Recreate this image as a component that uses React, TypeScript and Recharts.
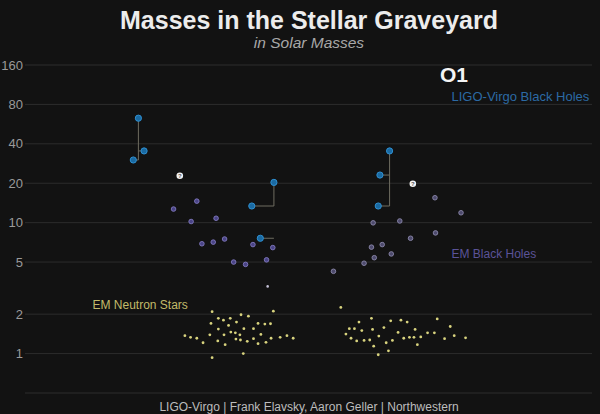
import React from 'react';
import { ScatterChart, Scatter, XAxis, YAxis, CartesianGrid } from 'recharts';

// y ticks on the log axis (solar masses)
const massTicks = [1, 2, 5, 10, 20, 40, 80, 160];

// [x position, mass]
const emNeutronStars = [
    [33.0, 2.09], [43.8, 2.11], [34.1, 1.86], [35.0, 1.8], [36.2, 1.86], [38.1, 1.98], [39.4, 1.93],
    [32.8, 1.7], [35.9, 1.64], [37.3, 1.74], [41.1, 1.7], [42.3, 1.68], [43.3, 1.69], [34.1, 1.54],
    [38.6, 1.55], [40.3, 1.55], [36.3, 1.46], [32.6, 1.39], [35.1, 1.39], [37.1, 1.44], [37.9, 1.39],
    [41.6, 1.4], [28.2, 1.37], [29.2, 1.33], [30.3, 1.31], [31.4, 1.21], [34.0, 1.25], [35.3, 1.17],
    [37.2, 1.29], [38.0, 1.27], [39.2, 1.24], [40.3, 1.3], [41.1, 1.19], [42.5, 1.22], [43.4, 1.31],
    [45.0, 1.33], [46.2, 1.37], [47.3, 1.31], [33.0, 0.93], [38.5, 1.0],
    [55.7, 2.25], [61.1, 1.86], [58.9, 1.74], [64.5, 1.78], [66.3, 1.8], [67.4, 1.74], [72.7, 1.84],
    [57.2, 1.55], [58.1, 1.55], [59.4, 1.5], [61.3, 1.53], [63.3, 1.58], [68.8, 1.53], [75.0, 1.61],
    [56.6, 1.41], [65.8, 1.45], [71.0, 1.44], [72.2, 1.44], [57.5, 1.31], [58.5, 1.25], [59.8, 1.26],
    [60.8, 1.27], [62.4, 1.36], [64.8, 1.26], [66.8, 1.31], [67.8, 1.33], [68.6, 1.33], [69.8, 1.34],
    [75.7, 1.37], [61.5, 1.14], [63.7, 1.21], [69.2, 1.17], [74.0, 1.3], [77.7, 1.32], [64.1, 1.05],
    [62.3, 0.98],
];

const emBlackHolesLeft = [
    [26.2, 12.7], [30.3, 14.6], [29.3, 10.2], [33.7, 10.8], [31.2, 6.9], [33.2, 7.1], [35.2, 7.5],
    [40.2, 6.8], [43.7, 6.45], [36.8, 5.0], [38.9, 4.8], [42.6, 5.2],
];

const emBlackHolesRight = [
    [72.3, 15.5], [76.9, 11.9], [61.4, 9.97], [66.1, 10.3], [72.4, 8.35], [68.0, 7.6], [61.1, 6.5],
    [63.0, 6.8], [61.6, 5.4], [64.6, 5.77], [59.8, 4.9], [54.4, 4.25],
];

const massGap = [[42.8, 3.26]];

const unknownObjects = [[27.3, 22.8], [68.4, 19.8]];

// LIGO-Virgo mergers: two components and the final black hole
const ligoMergers = [
    { a: [19.1, 30.1], b: [21.0, 35.3], final: [20.0, 62.8] },
    { a: [40.0, 13.4], b: [41.5, 7.6], final: [43.9, 20.3] },
    { a: [62.3, 13.4], b: [62.6, 23.1], final: [64.3, 35.3] },
];

const toPts = (arr) => arr.map(([x, m]) => ({ x, m }));
const ligoPoints = toPts(ligoMergers.flatMap((g) => [g.a, g.b, g.final]));
const mergerPaths = ligoMergers.flatMap((g) => [
    toPts([g.a, [g.final[0], g.a[1]], g.final]),
    toPts([g.b, [g.final[0], g.b[1]]]),
]);

const dot = (r, fill, stroke, sw = 0) => (props) => (
    <circle cx={props.cx} cy={props.cy} r={r} fill={fill} stroke={stroke || 'none'} strokeWidth={sw} />
);

const Question = (props) => (
    <g>
        <circle cx={props.cx} cy={props.cy} r={3.3} fill="#f2f2f2" />
        <text x={props.cx} y={props.cy + 2.2} textAnchor="middle" fontSize={6} fontWeight="bold" fill="#555">?</text>
    </g>
);

const FONT = '"Liberation Sans", Arial, sans-serif';

export default function App() {
    return (
        <div style={{ position: 'absolute', left: 0, top: 0, width: 600, height: 414, background: '#121212', fontFamily: FONT }}>
            <ScatterChart width={600} height={414} margin={{ top: 65, right: 8, bottom: 21, left: 0 }}>
                <CartesianGrid vertical={false} stroke="#2c2c2c" />
                <XAxis type="number" dataKey="x" domain={[0, 100]} hide />
                <YAxis
                    type="number"
                    dataKey="m"
                    scale="log"
                    domain={[0.5, 160]}
                    ticks={massTicks}
                    allowDataOverflow
                    width={25}
                    axisLine={false}
                    tickLine={false}
                    tickSize={0}
                    tickMargin={2}
                    tick={{ fill: '#9a9a9a', fontSize: 13, fontFamily: FONT }}
                />
                {mergerPaths.map((p, i) => (
                    <Scatter
                        key={i}
                        data={p}
                        line={{ stroke: '#6e6c60', strokeWidth: 1 }}
                        shape={() => <g />}
                        isAnimationActive={false}
                    />
                ))}
                <Scatter data={toPts(emNeutronStars)} shape={dot(1.4, '#d8d37e')} isAnimationActive={false} />
                <Scatter data={toPts(massGap)} shape={dot(1.3, '#c4c0d6')} isAnimationActive={false} />
                <Scatter data={toPts(emBlackHolesLeft)} shape={dot(2.3, '#4a4486', '#8179c0', 0.9)} isAnimationActive={false} />
                <Scatter data={toPts(emBlackHolesRight)} shape={dot(2.3, '#4d4a6c', '#8b88aa', 0.9)} isAnimationActive={false} />
                <Scatter data={ligoPoints} shape={dot(3.1, '#1a6aa2', '#2f8fd0', 1)} isAnimationActive={false} />
                <Scatter data={toPts(unknownObjects)} shape={Question} isAnimationActive={false} />
            </ScatterChart>
            <svg width={600} height={414} style={{ position: 'absolute', left: 0, top: 0, pointerEvents: 'none' }} fontFamily={FONT}>
                <text x={309} y={29} textAnchor="middle" fontSize={25} fontWeight="bold" fill="#ececec">
                    Masses in the Stellar Graveyard
                </text>
                <text x={309} y={47.5} textAnchor="middle" fontSize={15.5} fontStyle="italic" fill="#a8a8a8">
                    in Solar Masses
                </text>
                <text x={440} y={82} fontSize={21} fontWeight="bold" fill="#f4f4f4">O1</text>
                <text x={451.5} y={101} fontSize={13} fill="#2c6aa4">LIGO-Virgo Black Holes</text>
                <text x={451.5} y={257.5} fontSize={12} fill="#5b5398">EM Black Holes</text>
                <text x={92.5} y={309} fontSize={12} fill="#c2bb6a">EM Neutron Stars</text>
                <text x={309} y={410.5} textAnchor="middle" fontSize={12} fill="#bdbdbd">
                    LIGO-Virgo | Frank Elavsky, Aaron Geller | Northwestern
                </text>
            </svg>
        </div>
    );
}
